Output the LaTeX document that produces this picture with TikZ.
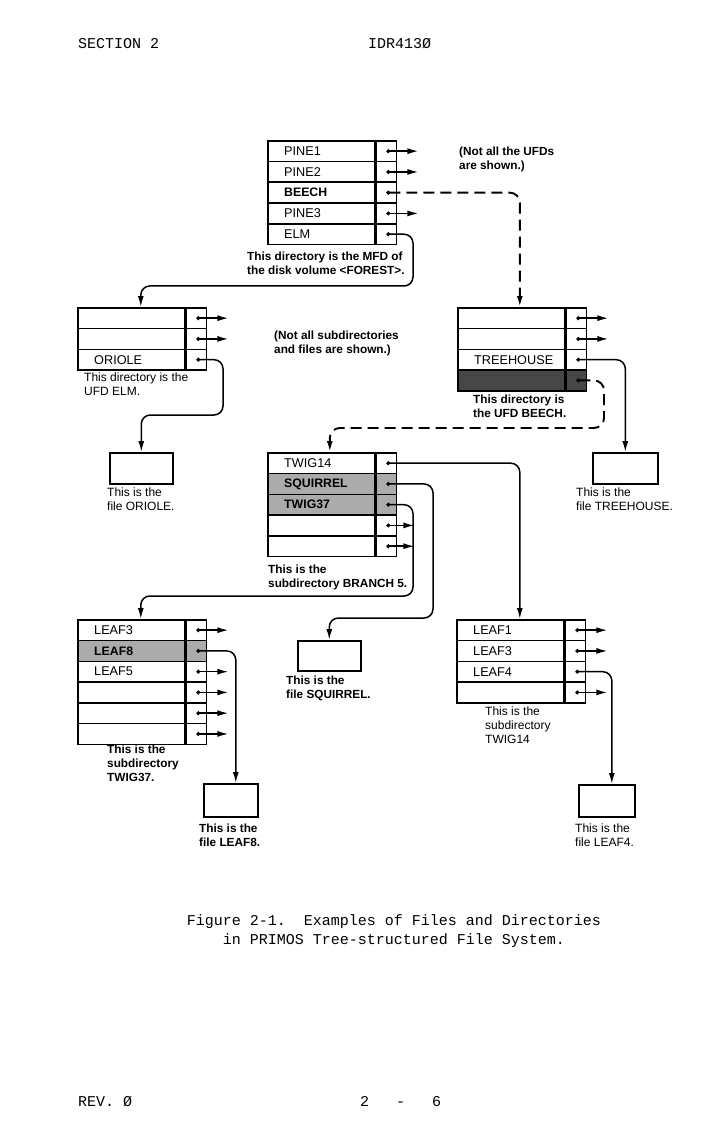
\documentclass[tikz,border=0pt]{standalone}
\usepackage{fontspec}
\setmainfont{Liberation Sans}
\newfontfamily\monof{Liberation Mono}
\usetikzlibrary{arrows.meta}
\newcommand\dirtable[4]{%
  \foreach \lab/\fs/\fl [count=\i] in {#4} {
    \node[cellbox, \fl] (#1L\i) at (#2, {#3+(\i-1)*20.75}) {};
    \node[ptrbox, \fl] (#1P\i) at (#1L\i.north east) {};
    \node[\fs] (#1T\i) at ([xshift=17pt]#1L\i.west) {\lab};
  }%
}
\begin{document}
\begin{tikzpicture}[x=1pt,y=-1pt,
  cellbox/.style={draw, line width=1.6pt, minimum width=107pt, minimum height=20.75pt, inner sep=0, anchor=north west},
  ptrbox/.style={draw, line width=1.6pt, minimum width=20pt, minimum height=20.75pt, inner sep=0, anchor=north west},
  rowplain/.style={},
  rowlight/.style={fill=black!33},
  rowdark/.style={fill=black!72},
  lbl/.style={font=\fontsize{12.7}{14}\selectfont, inner sep=0, anchor=west},
  lblb/.style={font=\bfseries\fontsize{12.3}{14}\selectfont, inner sep=0, anchor=west},
  note/.style={font=\fontsize{12}{14}\selectfont, align=left, inner sep=0, anchor=north west},
  noteb/.style={font=\bfseries\fontsize{11.8}{14}\selectfont, align=left, inner sep=0, anchor=north west},
  filebox/.style={draw, line width=1.6pt, inner sep=0, anchor=north west},
  conn/.style={line width=1.5pt, rounded corners=9pt, {Circle[length=3.8pt]}-{Latex[length=11pt,width=6pt]}},
  dconn/.style={conn, dash pattern=on 11pt off 6pt, line width=1.9pt, rounded corners=10pt},
  mono/.style={font=\monof\fontsize{15}{19}\selectfont, inner sep=0}
]
\fill[white] (0,0) rectangle (722,1131);
\useasboundingbox (0,0) rectangle (722,1131);

% header / footer
\node[mono, anchor=west] (hdl) at (78,44) {SECTION 2};
\node[mono, anchor=west] (hdr) at (368,44) {IDR413Ø};
\node[mono, anchor=west] (ftl) at (78,1102) {REV. Ø};
\node[mono, anchor=west] (ftr) at (360,1102) {2~~~-~~~6};
\node[mono] (cap1) at (394,922) {Figure 2-1.~~Examples of Files and Directories};
\node[mono] (cap2) at (394,941) {in PRIMOS Tree-structured File System.};

% tables
\dirtable{mfd}{267}{140}{PINE1/lbl/rowplain, PINE2/lbl/rowplain, BEECH/lblb/rowplain, PINE3/lbl/rowplain, ELM/lbl/rowplain}
\dirtable{elm}{77}{307}{{}/lbl/rowplain, {}/lbl/rowplain, ORIOLE/lbl/rowplain}
\dirtable{be}{457}{307}{{}/lbl/rowplain, {}/lbl/rowplain, TREEHOUSE/lbl/rowplain, {}/lbl/rowdark}
\dirtable{br}{267}{452}{TWIG14/lbl/rowplain, SQUIRREL/lblb/rowlight, TWIG37/lblb/rowlight, {}/lbl/rowplain, {}/lbl/rowplain}
\dirtable{ts}{77}{619}{LEAF3/lbl/rowplain, LEAF8/lblb/rowlight, LEAF5/lbl/rowplain, {}/lbl/rowplain, {}/lbl/rowplain, {}/lbl/rowplain}
\dirtable{tf}{456}{619}{LEAF1/lbl/rowplain, LEAF3/lbl/rowplain, LEAF4/lbl/rowplain, {}/lbl/rowplain}

% files
\node[filebox, minimum width=63pt, minimum height=31pt] (oriole) at (109,452) {};
\node[filebox, minimum width=65pt, minimum height=31pt] (treehouse) at (592,452) {};
\node[filebox, minimum width=63pt, minimum height=30pt] (squirrel) at (297,640) {};
\node[filebox, minimum width=54pt, minimum height=33pt] (leaf8) at (203,783) {};
\node[filebox, minimum width=56pt, minimum height=32pt] (leaf4) at (578,784) {};

% notes
\node[noteb] (n1) at (459,147) {(Not all the UFDs\\are shown.)};
\node[noteb] (n2) at (247,252) {This directory is the MFD of\\the disk volume <FOREST>.};
\node[noteb] (n3) at (274,331) {(Not all subdirectories\\and files are shown.)};
\node[note] (n4) at (84,373) {This directory is the\\UFD ELM.};
\node[noteb] (n5) at (473,395) {This directory is\\the UFD BEECH.};
\node[note] (n6) at (107,488) {This is the\\file ORIOLE.};
\node[note] (n7) at (576,488) {This is the\\file TREEHOUSE.};
\node[noteb] (n8) at (268,565) {This is the\\subdirectory BRANCH 5.};
\node[noteb] (n9) at (286,676) {This is the\\file SQUIRREL.};
\node[noteb] (n10) at (107,745) {This is the\\subdirectory\\TWIG37.};
\node[noteb] (n11) at (199,824) {This is the\\file LEAF8.};
\node[note] (n12) at (485,707) {This is the\\subdirectory\\TWIG14};
\node[note] (n13) at (575,824) {This is the\\file LEAF4.};

% short arrows
\foreach \p in {mfdP1, mfdP2, mfdP4, elmP1, elmP2, beP1, beP2, tsP1, tsP3, tsP4, tsP5, tsP6, tfP1, tfP2, tfP4}
  \draw[conn] (\p.center) -- ++(32,0);
\foreach \p in {brP4, brP5}
  \draw[conn] (\p.center) -- ++(28,0);

% connectors
\draw[dconn] (mfdP3.center) -| ([xshift=8.5pt]beL1.north);
\draw[conn] (mfdP5.center) -| (413,286) -| ([xshift=9.5pt]elmL1.north);
\draw[conn] (elmP3.center) -| (223,415) -| (oriole.north);
\draw[conn] (beP3.center) -| (treehouse.north);
\draw[dconn] (beP4.center) -| (604,428) -| ([xshift=8.5pt]brL1.north);
\draw[conn] (brP1.center) -| ([xshift=9.5pt]tfL1.north);
\draw[conn] (brP2.center) -| (433,618) -| (squirrel.north);
\draw[conn] (brP3.center) -| (413,596) -| ([xshift=9.5pt]tsL1.north);
\draw[conn] (tsP2.center) -| ([xshift=5pt]leaf8.north);
\draw[conn] (tfP3.center) -| ([xshift=5pt]leaf4.north);
\end{tikzpicture}
\end{document}
